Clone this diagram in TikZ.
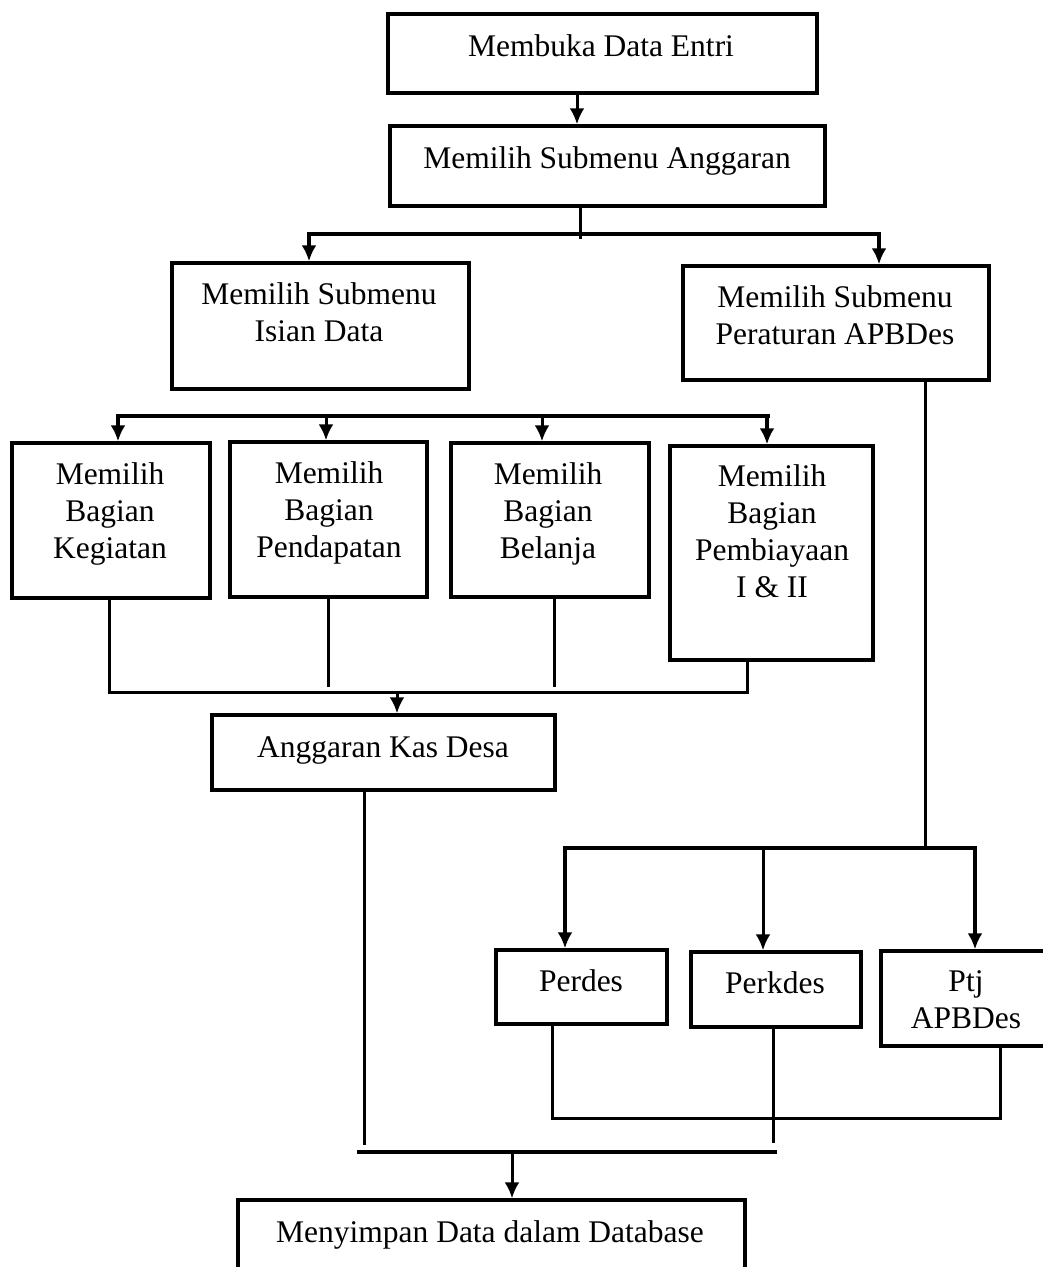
\documentclass[tikz,border=0pt]{standalone}
\usepackage{fontspec}
\setmainfont{Liberation Serif}
\usetikzlibrary{arrows.meta}
\tikzset{
  box/.style={draw, line width=3.4pt, rectangle, inner sep=0pt},
  txt/.style={font=\fontsize{31.5}{37}\selectfont, align=center, inner sep=0pt, anchor=base},
  conn/.style={line width=3pt},
  bus/.style={line width=3.6pt},
  arr/.style={conn, -{Latex[length=16pt,width=15pt]}},
  arr2/.style={conn, {Latex[length=16pt,width=15pt]}-{Latex[length=16pt,width=15pt]}},
}
\begin{document}
\begin{tikzpicture}[x=1pt,y=-1pt]
\useasboundingbox (0,0) rectangle (1043,1267);
\clip (0,0) rectangle (1043,1267);
% boxes
\node[box, minimum width=429pt, minimum height=79pt] (b1) at (602.5,53.5) {};
\node[box, minimum width=435pt, minimum height=80pt] (b2) at (607.5,166) {};
\node[box, minimum width=297pt, minimum height=126pt] (b3) at (320.5,326) {};
\node[box, minimum width=306pt, minimum height=114pt] (b4) at (836,323) {};
\node[box, minimum width=198pt, minimum height=155pt] (b5) at (111,520.5) {};
\node[box, minimum width=197pt, minimum height=155pt] (b6) at (328.5,519.5) {};
\node[box, minimum width=198pt, minimum height=154pt] (b7) at (550,520) {};
\node[box, minimum width=203pt, minimum height=214pt] (b8) at (771.5,553) {};
\node[box, minimum width=343pt, minimum height=75pt] (b9) at (383.5,752.5) {};
\node[box, minimum width=171pt, minimum height=74pt] (b10) at (581.5,987) {};
\node[box, minimum width=170pt, minimum height=75pt] (b11) at (776,989.5) {};
\node[box, minimum width=170pt, minimum height=95pt] (b12) at (966,998.5) {};
\node[box, minimum width=507pt, minimum height=100pt] (b13) at (491.5,1250) {};
% texts (anchor = baseline of last line)
\node[txt] (t1) at (601,56) {Membuka Data Entri};
\node[txt] (t2) at (607,168) {Memilih Submenu Anggaran};
\node[txt] (t3) at (319,341) {Memilih Submenu\\Isian Data};
\node[txt] (t4) at (835,344) {Memilih Submenu\\Peraturan APBDes};
\node[txt] (t5) at (110,558) {Memilih\\Bagian\\Kegiatan};
\node[txt] (t6) at (329,557) {Memilih\\Bagian\\Pendapatan};
\node[txt] (t7) at (548,558) {Memilih\\Bagian\\Belanja};
\node[txt] (t8) at (772,597) {Memilih\\Bagian\\Pembiayaan\\I \& II};
\node[txt] (t9) at (383,757) {Anggaran Kas Desa};
\node[txt] (t10) at (581,991) {Perdes};
\node[txt] (t11) at (775,993) {Perkdes};
\node[txt] (t12) at (966,1028) {Ptj\\APBDes};
\node[txt] (t13) at (490,1242) {Menyimpan Data dalam Database};
% coordinates
\coordinate (c1) at (577,110);
\coordinate (s1) at (580,239);
\coordinate (L1) at (309,234);
\coordinate (R1) at (879,234);
\coordinate (q1) at (118,416);
\coordinate (q2) at (326,416);
\coordinate (q3) at (542,416);
\coordinate (q4) at (767,416);
\coordinate (qe) at (770,416);
\coordinate (r1) at (109,692);
\coordinate (r4) at (747,692);
\coordinate (rm) at (397,692);
\coordinate (e6) at (328,687);
\coordinate (e7) at (554,687);
\coordinate (v2) at (925,848);
\coordinate (p1) at (565,848);
\coordinate (p0) at (563,848);
\coordinate (p2) at (763,848);
\coordinate (p3) at (975,848);
\coordinate (k9) at (364,1145);
\coordinate (u1) at (552,1118);
\coordinate (u2) at (1000,1118);
\coordinate (k11) at (773,1143);
\coordinate (h1) at (357,1152);
\coordinate (h2) at (777,1152);
\coordinate (hm) at (512,1152);
% connectors
\draw[arr] (b1.south -| c1) -- (b2.north -| c1);
\draw[conn] (b2.south -| s1) -- (s1);
\draw[arr2, bus] (b3.north -| L1) -- (L1) -- (R1) -- (b4.north -| R1);
\draw[arr2, bus] (b5.north -| q1) -- (q1) -- (q4) -- (b8.north -| q4);
\draw[bus] (q4) -- (qe);
\draw[arr] (q2) -- (b6.north -| q2);
\draw[arr] (q3) -- (b7.north -| q3);
\draw[conn] (b5.south -| r1) -- (r1) -- (r4) -- (b8.south -| r4);
\draw[conn] (b6.south -| e6) -- (e6);
\draw[conn] (b7.south -| e7) -- (e7);
\draw[arr] (rm) -- (b9.north -| rm);
\draw[conn] (b4.south -| v2) -- (v2);
\draw[arr2, bus] (b10.north -| p1) -- (p1) -- (p3) -- (b12.north -| p3);
\draw[bus] (p0) -- (p1);
\draw[arr] (p2) -- (b11.north -| p2);
\draw[conn] (b9.south -| k9) -- (k9);
\draw[conn] (b10.south -| u1) -- (u1) -- (u2) -- (b12.south -| u2);
\draw[conn] (b11.south -| k11) -- (k11);
\draw[bus] (h1) -- (h2);
\draw[arr] (hm) -- (b13.north -| hm);
\end{tikzpicture}
\end{document}
